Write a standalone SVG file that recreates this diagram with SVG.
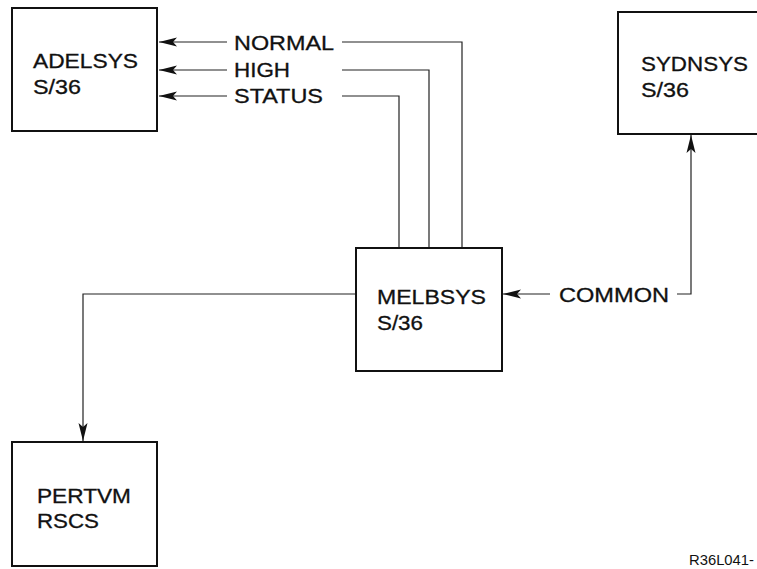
<svg xmlns="http://www.w3.org/2000/svg" width="757" height="569" viewBox="0 0 757 569">
<style>
.box{fill:#fff;stroke:#111;stroke-width:2}
.t{font-family:"Liberation Sans",Arial,sans-serif;font-size:20px;fill:#111;stroke:#111;stroke-width:0.3}
.s{font-family:"Liberation Sans",Arial,sans-serif;font-size:15px;fill:#111}
.c{fill:none;stroke:#222;stroke-width:1.2}
</style>
<defs>
<marker id="ah" viewBox="0 0 18 10" refX="18" refY="5" markerWidth="18" markerHeight="10" markerUnits="userSpaceOnUse" orient="auto">
<path d="M0,0.5 L18,5 L0,9.5 L4,5 Z" fill="#111"/>
</marker>
</defs>
<rect width="757" height="569" fill="#fff"/>
<g id="connectors">
<path class="c" d="M227,42 H159" marker-end="url(#ah)"/>
<path class="c" d="M227,70 H159" marker-end="url(#ah)"/>
<path class="c" d="M227,96 H159" marker-end="url(#ah)"/>
<path class="c" d="M342,42 H462 V248"/>
<path class="c" d="M342,70 H429 V248"/>
<path class="c" d="M342,96 H399 V248"/>
<path class="c" d="M550,294 H503" marker-end="url(#ah)"/>
<path class="c" d="M677,294 H691 V135" marker-end="url(#ah)"/>
<path class="c" d="M356,294 H83 V441" marker-end="url(#ah)"/>
<text class="t" x="234" y="50" textLength="100" lengthAdjust="spacingAndGlyphs">NORMAL</text>
<text class="t" x="234" y="77" textLength="56" lengthAdjust="spacingAndGlyphs">HIGH</text>
<text class="t" x="234" y="103" textLength="89" lengthAdjust="spacingAndGlyphs">STATUS</text>
<text class="t" x="559" y="302" textLength="110" lengthAdjust="spacingAndGlyphs">COMMON</text>
</g>
<g id="adelsys">
<rect class="box" x="12" y="8" width="145" height="123"/>
<text class="t" x="33" y="68" textLength="105" lengthAdjust="spacingAndGlyphs">ADELSYS</text>
<text class="t" x="33" y="94" textLength="48" lengthAdjust="spacingAndGlyphs">S/36</text>
</g>
<g id="sydnsys">
<rect class="box" x="618" y="12" width="145" height="122"/>
<text class="t" x="641" y="71" textLength="107" lengthAdjust="spacingAndGlyphs">SYDNSYS</text>
<text class="t" x="641" y="97" textLength="48" lengthAdjust="spacingAndGlyphs">S/36</text>
</g>
<g id="melbsys">
<rect class="box" x="356" y="248" width="146" height="123"/>
<text class="t" x="377" y="304" textLength="109" lengthAdjust="spacingAndGlyphs">MELBSYS</text>
<text class="t" x="377" y="330" textLength="46" lengthAdjust="spacingAndGlyphs">S/36</text>
</g>
<g id="pertvm">
<rect class="box" x="12" y="442" width="145" height="124"/>
<text class="t" x="37" y="503" textLength="94" lengthAdjust="spacingAndGlyphs">PERTVM</text>
<text class="t" x="37" y="528" textLength="62" lengthAdjust="spacingAndGlyphs">RSCS</text>
</g>
<text class="s" x="689" y="565" textLength="65" lengthAdjust="spacingAndGlyphs">R36L041-</text>
</svg>
